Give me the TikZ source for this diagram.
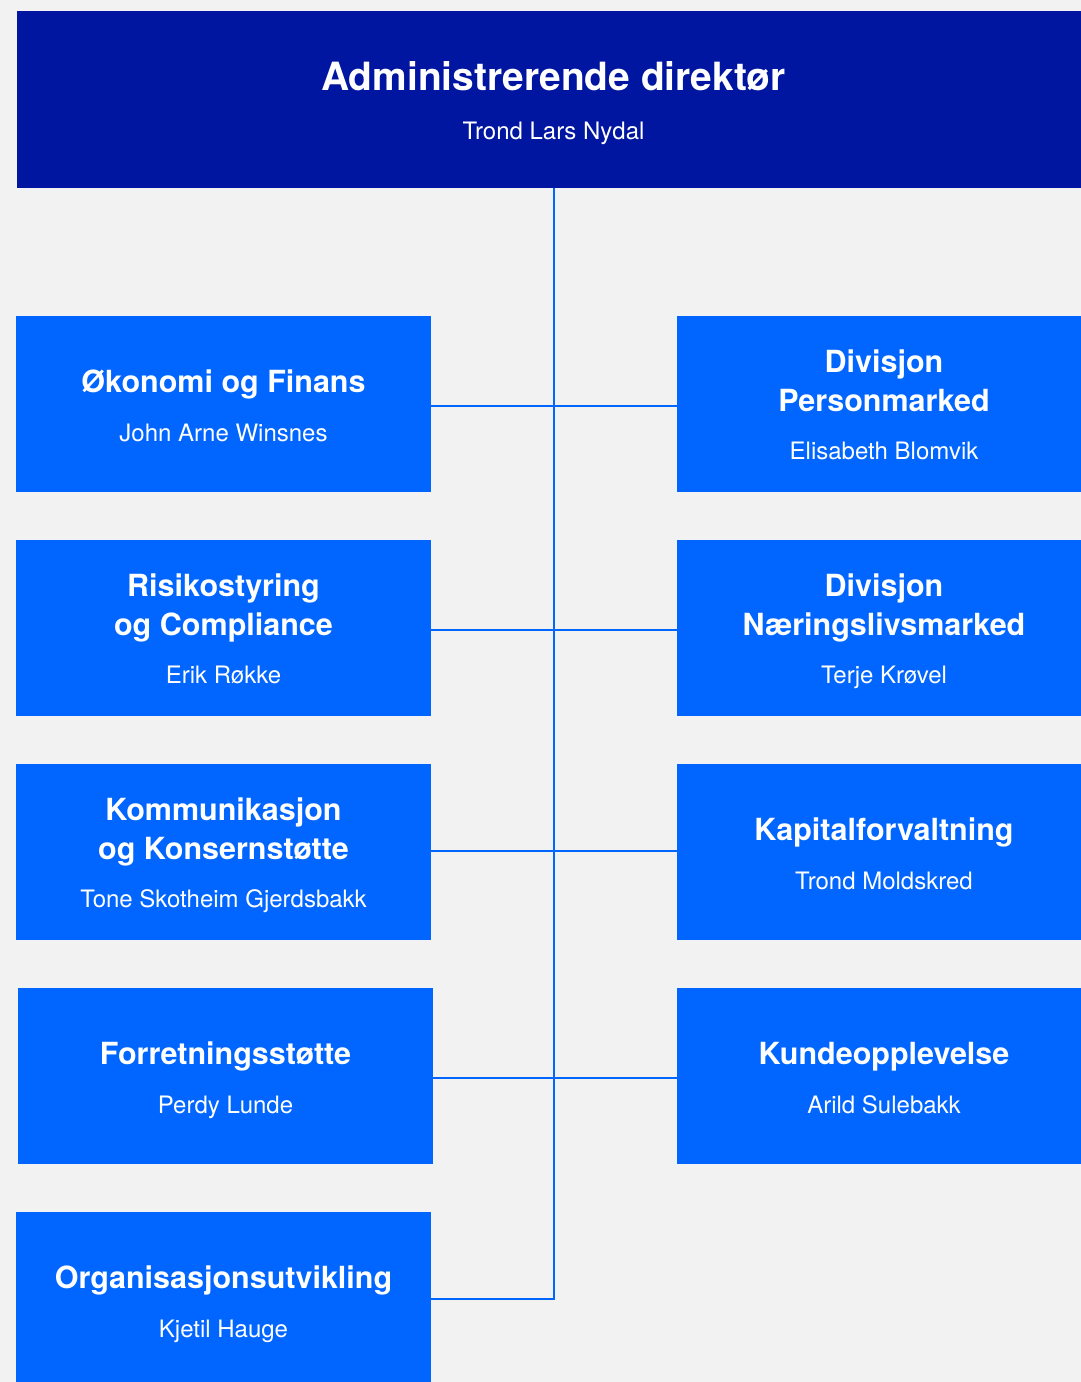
\documentclass[tikz,border=0pt]{standalone}
\usepackage{fontspec}
\setmainfont{TeX Gyre Heros}
\definecolor{bg}{HTML}{F2F2F2}
\definecolor{navy}{HTML}{0016A0}
\definecolor{dnbblue}{HTML}{0066FF}
\tikzset{
  unitbox/.style={fill=dnbblue, draw=none, inner sep=0pt, outer sep=0pt,
    minimum width=415pt, minimum height=176pt, anchor=north west},
  ttl/.style={text=white, font=\fontsize{30.5}{38}\selectfont\bfseries, anchor=base, inner sep=0pt},
  subt/.style={text=white, font=\fontsize{24}{29}\selectfont, anchor=base, inner sep=0pt},
  link/.style={draw=dnbblue, line width=2pt, line join=miter}
}
\begin{document}
\begin{tikzpicture}[x=1pt,y=-1pt]
\useasboundingbox (0,0) rectangle (1081,1382);
\fill[bg] (0,0) rectangle (1081,1382);

% CEO
\node[fill=navy, inner sep=0pt, outer sep=0pt, minimum width=1073pt, minimum height=177pt, anchor=north west] (ceo) at (17,11) {};
\node[text=white, font=\fontsize{38.9}{46}\selectfont\bfseries, anchor=base, inner sep=0pt] (ceot) at (553.5,90) {Administrerende direktør};
\node[subt] (ceos) at (553.5,139) {Trond Lars Nydal};

% left column
\node[unitbox] (l1) at (16,316) {};
\node[ttl] (l1t) at (223.5,392.7) {Økonomi og Finans};
\node[subt] (l1s) at (223.5,441) {John Arne Winsnes};

\node[unitbox] (l2) at (16,540) {};
\node[ttl] (l2t) at (223.5,596.7) {Risikostyring};
\node[ttl] (l2u) at (223.5,635) {og Compliance};
\node[subt] (l2s) at (223.5,683.3) {Erik Røkke};

\node[unitbox] (l3) at (16,764) {};
\node[ttl] (l3t) at (223.5,820.7) {Kommunikasjon};
\node[ttl] (l3u) at (223.5,859) {og Konsernstøtte};
\node[subt] (l3s) at (223.5,907.3) {Tone Skotheim Gjerdsbakk};

\node[unitbox] (l4) at (18,988) {};
\node[ttl] (l4t) at (225.5,1064.7) {Forretningsstøtte};
\node[subt] (l4s) at (225.5,1113) {Perdy Lunde};

\node[unitbox] (l5) at (16,1212) {};
\node[ttl] (l5t) at (223.5,1288.7) {Organisasjonsutvikling};
\node[subt] (l5s) at (223.5,1337) {Kjetil Hauge};

% right column
\node[unitbox] (r1) at (677,316) {};
\node[ttl] (r1t) at (884,372.7) {Divisjon};
\node[ttl] (r1u) at (884,411) {Personmarked};
\node[subt] (r1s) at (884,459.3) {Elisabeth Blomvik};

\node[unitbox] (r2) at (677,540) {};
\node[ttl] (r2t) at (884,596.7) {Divisjon};
\node[ttl] (r2u) at (884,635) {Næringslivsmarked};
\node[subt] (r2s) at (884,683.3) {Terje Krøvel};

\node[unitbox] (r3) at (677,764) {};
\node[ttl] (r3t) at (884,840.7) {Kapitalforvaltning};
\node[subt] (r3s) at (884,889) {Trond Moldskred};

\node[unitbox] (r4) at (677,988) {};
\node[ttl] (r4t) at (884,1064.7) {Kundeopplevelse};
\node[subt] (r4s) at (884,1113) {Arild Sulebakk};

% connectors
\coordinate (j1) at (553.5,405.7);
\coordinate (j2) at (553.5,629.7);
\coordinate (j3) at (553.5,851.3);
\coordinate (j4) at (553.5,1077.7);
\coordinate (j5) at (553.5,1298.7);
\draw[link] (ceo.south -| j5) -- (j5) -- (l5.east |- j5);
\draw[link] (l1.east |- j1) -- (r1.west |- j1);
\draw[link] (l2.east |- j2) -- (r2.west |- j2);
\draw[link] (l3.east |- j3) -- (r3.west |- j3);
\draw[link] (l4.east |- j4) -- (r4.west |- j4);
\end{tikzpicture}
\end{document}
